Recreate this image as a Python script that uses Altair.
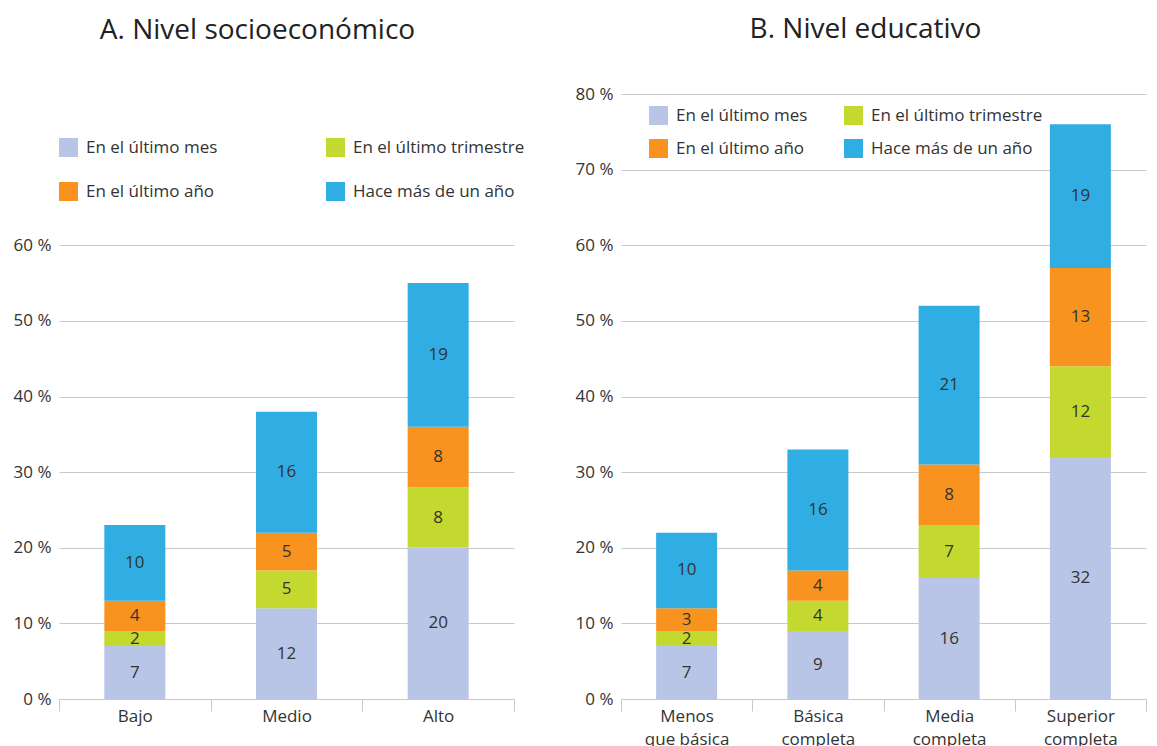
import altair as alt
import pandas as pd

series = ["En el último mes", "En el último trimestre", "En el último año", "Hace más de un año"]
colors = ["#b8c5e6", "#c3d92f", "#f7931e", "#30aee4"]
# legend (column-major grid) order so rows read: mes | trimestre / año | más
legend_order = [0, 2, 1, 3]

cats_a = ["Bajo", "Medio", "Alto"]
mes_a = [7, 12, 20]
trim_a = [2, 5, 8]
anio_a = [4, 5, 8]
mas_a = [10, 16, 19]

cats_b = ["Menos\nque básica", "Básica\ncompleta", "Media\ncompleta", "Superior\ncompleta"]
mes_b = [7, 9, 16, 32]
trim_b = [2, 4, 7, 12]
anio_b = [3, 4, 8, 13]
mas_b = [10, 16, 21, 19]

ticks_a = [0, 10, 20, 30, 40, 50, 60]
ticks_b = [0, 10, 20, 30, 40, 50, 60, 70, 80]

FONT = "Open Sans"
FS = 17


def long_df(cats, cols):
    rows = []
    for i, c in enumerate(cats):
        for k, (s, vals) in enumerate(zip(series, cols)):
            rows.append({"cat": c, "serie": s, "orden": k, "valor": vals[i]})
    return pd.DataFrame(rows)


df_a = long_df(cats_a, [mes_a, trim_a, anio_a, mas_a])
df_b = long_df(cats_b, [mes_b, trim_b, anio_b, mas_b])


def panel(df, cats, ticks, width, title, lx, ly, row_pad, col_pad, title_offset, title_dx):
    base = alt.Chart(df).transform_stack(
        stack="valor", groupby=["cat"], sort=[alt.SortField("orden")], as_=["v0", "v1"]
    ).transform_calculate(mid="(datum.v0 + datum.v1) / 2")

    xenc = alt.X(
        "cat:N",
        sort=cats,
        scale=alt.Scale(paddingInner=0, paddingOuter=0),
        axis=alt.Axis(
            title=None, labelAngle=0, labelExpr="split(datum.label, '\\n')",
            tickBand="extent", tickSize=12, tickColor="#c8c8c8", domainColor="#c8c8c8",
            labelFontSize=FS, labelColor="#333333", labelPadding=-3, labelFont=FONT,
            labelLineHeight=23,
        ),
    )
    yscale = alt.Scale(domain=[0, 80], nice=False)
    bars = base.mark_bar(size=61).encode(
        x=xenc,
        y=alt.Y(
            "v0:Q", scale=yscale,
            axis=alt.Axis(
                title=None, values=ticks, labelExpr="datum.value + ' %'", domain=False,
                ticks=False, gridColor="#c8c8c8", labelFontSize=FS, labelColor="#333333",
                labelPadding=8, labelFont=FONT,
            ),
        ),
        y2="v1:Q",
        color=alt.Color(
            "serie:N",
            scale=alt.Scale(domain=[series[i] for i in legend_order],
                            range=[colors[i] for i in legend_order]),
            legend=alt.Legend(
                orient="none", legendX=lx, legendY=ly, columns=2, title=None,
                symbolType="square", symbolSize=361, symbolStrokeWidth=0,
                labelFontSize=FS, labelColor="#333333", labelFont=FONT,
                rowPadding=row_pad, columnPadding=col_pad, labelOffset=8, labelLimit=400,
            ),
        ),
    )
    text = base.mark_text(fontSize=FS, color="#333333", font=FONT).encode(
        x=alt.X("cat:N", sort=cats),
        y=alt.Y("mid:Q", scale=yscale),
        text="valor:Q",
    )
    return alt.layer(bars, text).properties(
        width=width, height=605,
        title=alt.TitleParams(title, fontSize=28, font=FONT, fontWeight="normal",
                              color="#222222", offset=title_offset, anchor="middle",
                              frame="group", dx=title_dx),
    )


left = panel(df_a, cats_a, ticks_a, 455, "A. Nivel socioeconómico", 0, 44, 25, 108, 49, -29)
right = panel(df_b, cats_b, ticks_b, 525, "B. Nivel educativo", 28, 12, 14, 36, 41, -18)

chart = alt.hconcat(
    left, right, spacing=50, padding={"left": 5, "top": 8, "right": 0, "bottom": 5}
).resolve_scale(color="independent").configure_view(stroke=None)

chart.save("out.html", embed_options={"renderer": "svg", "actions": False})
